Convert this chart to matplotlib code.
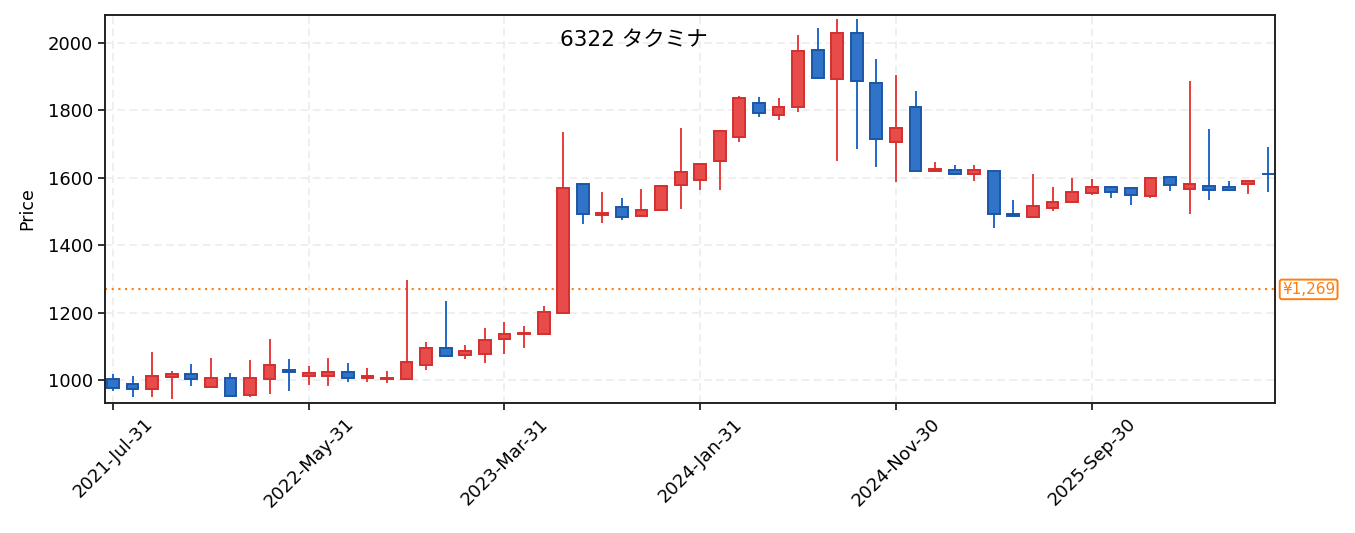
import numpy as np
import matplotlib
matplotlib.use('Agg')
import matplotlib.pyplot as plt
import pandas as pd
from matplotlib.patches import Rectangle

plt.rcParams['font.family'] = ['DejaVu Sans', 'Noto Sans CJK JP']

# monthly OHLC
dates = pd.date_range('2021-07-31', periods=60, freq='ME')
opens = [1002, 989, 973, 1009, 1019, 979, 1005, 956, 1002, 1031,
         1012, 1011, 1025, 1005, 1002, 1004, 1044, 1096, 1073, 1076,
         1121, 1136, 1137, 1200, 1581, 1489, 1514, 1487, 1504, 1579,
         1593, 1650, 1721, 1823, 1786, 1810, 1980, 1892, 2031, 1882,
         1706, 1811, 1620, 1624, 1610, 1621, 1494, 1484, 1509, 1527,
         1554, 1574, 1571, 1545, 1603, 1566, 1575, 1574, 1581, 1612]
closes = [976, 973, 1013, 1019, 1003, 1005, 953, 1005, 1045, 1025,
          1022, 1025, 1005, 1013, 1005, 1054, 1096, 1070, 1085, 1120,
          1136, 1139, 1203, 1571, 1493, 1496, 1484, 1505, 1577, 1618,
          1642, 1740, 1838, 1792, 1811, 1977, 1896, 2031, 1887, 1715,
          1749, 1620, 1626, 1611, 1622, 1492, 1488, 1517, 1529, 1557,
          1574, 1557, 1548, 1600, 1578, 1581, 1564, 1564, 1592, 1611]
highs = [1017, 1011, 1083, 1027, 1047, 1065, 1020, 1059, 1121, 1062,
         1043, 1065, 1050, 1037, 1026, 1297, 1113, 1234, 1103, 1154,
         1172, 1160, 1220, 1735, 1581, 1558, 1539, 1567, 1578, 1748,
         1643, 1741, 1843, 1839, 1836, 2024, 2045, 2070, 2070, 1952,
         1905, 1858, 1647, 1637, 1637, 1622, 1534, 1611, 1573, 1599,
         1597, 1575, 1572, 1601, 1604, 1887, 1745, 1590, 1593, 1691]
lows = [968, 951, 951, 945, 982, 976, 952, 951, 960, 968,
        985, 982, 994, 994, 991, 1000, 1030, 1070, 1062, 1052,
        1077, 1095, 1135, 1198, 1464, 1467, 1476, 1485, 1503, 1508,
        1564, 1564, 1707, 1781, 1772, 1796, 1896, 1651, 1685, 1631,
        1588, 1620, 1616, 1610, 1592, 1452, 1483, 1483, 1502, 1526,
        1550, 1541, 1519, 1539, 1562, 1493, 1535, 1562, 1552, 1558]
ref_price = 1269
title = '6322 タクミナ'

fig = plt.figure(figsize=(13.55, 5.33), dpi=100)
ax = fig.add_axes([0.0775, 0.2439, 0.8635, 0.728])

up_fill, up_edge = '#e84c4a', '#d3302f'
dn_fill, dn_edge = '#2f74c8', '#1d56a6'
w = 0.6
x = np.arange(len(dates))
for i in x:
    o, c, h, l = opens[i], closes[i], highs[i], lows[i]
    up = c > o
    fc, ec = (up_fill, up_edge) if up else (dn_fill, dn_edge)
    wick = '#e53d3d' if up else '#2068c8'
    ax.vlines(i, l, h, color=wick, lw=1.4, zorder=2)
    lo = min(o, c)
    hgt = max(abs(c - o), 1.5)
    ax.add_patch(Rectangle((i - w / 2, lo), w, hgt, facecolor=fc,
                           edgecolor=ec, lw=1.4, zorder=3))

ax.axhline(ref_price, color='#ff7f0e', ls=(0, (1, 2.2)), lw=1.5, zorder=1)
ax.annotate('¥{:,}'.format(ref_price), xy=(1.0, ref_price),
            xycoords=('axes fraction', 'data'), xytext=(5, 0),
            textcoords='offset points', va='center', ha='left',
            color='#ff7f0e', fontsize=11,
            bbox=dict(boxstyle='round,pad=0.15', fc='white', ec='#ff7f0e', lw=1.4))

ax.set_xlim(-0.41, 59.37)
ax.set_ylim(932, 2083)
ticks = x[::10]
ax.set_xticks(ticks)
ax.set_xticklabels([d.strftime('%Y-%b-%d') for d in dates[ticks]],
                   rotation=45, ha='center', fontsize=13)
ax.set_yticks([1000, 1200, 1400, 1600, 1800, 2000])
ax.tick_params(axis='y', labelsize=13)
ax.tick_params(length=5, width=1.3, color='#222222')
ax.set_ylabel('Price', fontsize=12.5, labelpad=8)
ax.grid(True, ls=(0, (5, 3)), color='#ebebeb', lw=1.1)
ax.set_axisbelow(True)
for s in ax.spines.values():
    s.set_color('#222222')
    s.set_linewidth(1.4)

ax.text(0.4517, 0.936, title, transform=ax.transAxes, ha='center', va='center',
        fontsize=15.5)

fig.savefig('out.png', dpi=100)
